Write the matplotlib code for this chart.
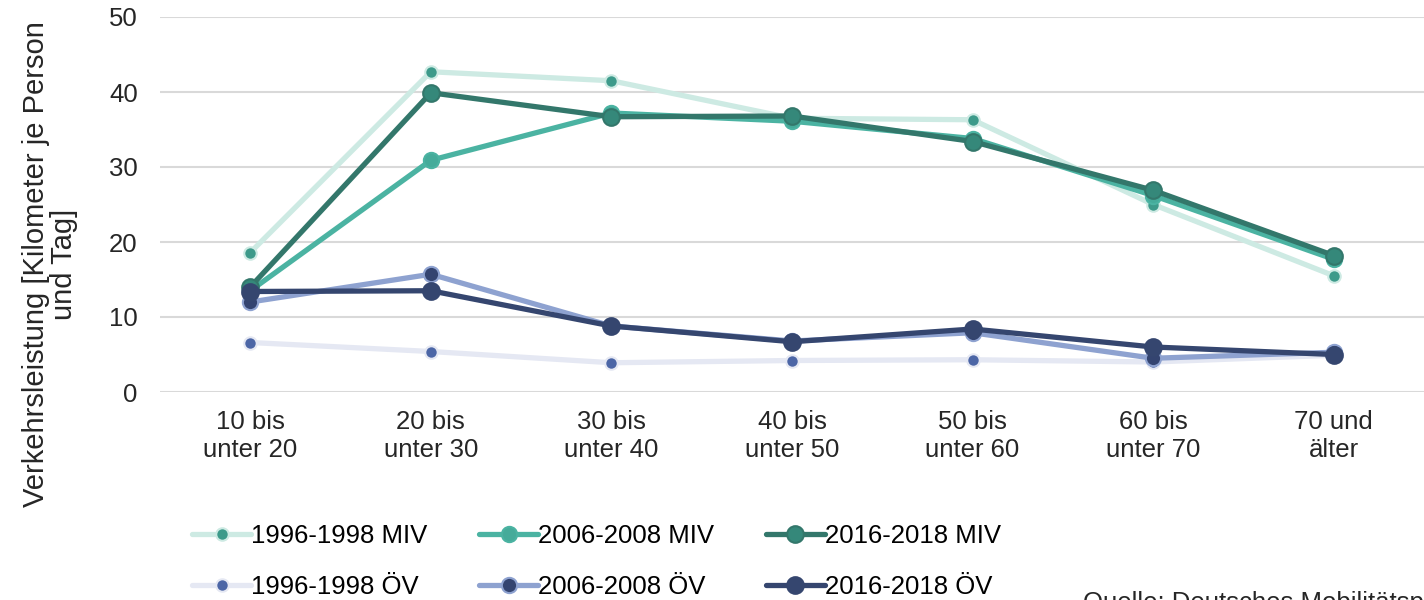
import matplotlib.pyplot as plt

plt.rcParams['font.family'] = ['Liberation Sans', 'DejaVu Sans']

categories = ['10 bis\nunter 20', '20 bis\nunter 30', '30 bis\nunter 40', '40 bis\nunter 50',
              '50 bis\nunter 60', '60 bis\nunter 70', '70 und\nälter']

miv_1996 = [18.6, 42.7, 41.5, 36.5, 36.3, 25.0, 15.5]
miv_2006 = [13.5, 30.9, 37.2, 36.1, 33.8, 26.2, 17.7]
miv_2016 = [14.0, 39.9, 36.7, 36.8, 33.4, 26.9, 18.2]
oev_1996 = [6.6, 5.4, 3.9, 4.2, 4.3, 4.0, 4.9]
oev_2006 = [12.0, 15.7, 8.8, 6.8, 7.9, 4.5, 5.3]
oev_2016 = [13.4, 13.5, 8.8, 6.7, 8.4, 6.0, 5.0]

# (label, values, line colour, marker colour, marker edge, marker size)
series = [
    ('1996-1998 MIV', miv_1996, '#cdeae3', '#3d9a8a', '#cdeae3', 9),
    ('2006-2008 MIV', miv_2006, '#4bb3a2', '#45ab9a', '#4bb3a2', 11),
    ('2016-2018 MIV', miv_2016, '#33776b', '#35887a', '#33776b', 12),
    ('1996-1998 ÖV', oev_1996, '#e5e8f3', '#4c66a6', '#e5e8f3', 9),
    ('2006-2008 ÖV', oev_2006, '#8ea2d0', '#344470', '#8ea2d0', 11),
    ('2016-2018 ÖV', oev_2016, '#35466f', '#35466f', '#35466f', 12),
]

fig = plt.figure(figsize=(14.24, 6), dpi=100)
ax = fig.add_axes([160 / 1424, 1 - 392 / 600, 1264 / 1424, 375 / 600])

x = range(len(categories))
handles = []
for label, vals, lc, mc, me, ms in series:
    h, = ax.plot(x, vals, color=lc, linewidth=3.8, marker='o', markersize=ms,
                 markerfacecolor=mc, markeredgecolor=me, markeredgewidth=1.5,
                 label=label, solid_capstyle='round')
    handles.append(h)

ax.set_xlim(-0.5, 6.5)
ax.set_ylim(0, 50)
ax.set_yticks([0, 10, 20, 30, 40, 50])
ax.set_xticks(list(x))
ax.set_xticklabels(categories, fontsize=18.5, color='#262626')
ax.tick_params(axis='y', labelsize=18.5, colors='#262626', length=0, pad=16)
ax.tick_params(axis='x', length=0, pad=13)
ax.grid(axis='y', color='#d9d9d9', linewidth=1.5)
ax.set_axisbelow(True)
for s in ax.spines.values():
    s.set_visible(False)

ax.set_ylabel('Verkehrsleistung [Kilometer je Person\nund Tag]', fontsize=21,
              color='#262626', linespacing=1.0)
ax.yaxis.set_label_coords(-0.065, 0.34)

# legend fills column-wise, so reorder to get MIV on the first row
order = [0, 3, 1, 4, 2, 5]
ax.legend([handles[i] for i in order], [series[i][0] for i in order],
          loc='upper left', bbox_to_anchor=(22 / 1264, -0.325), ncol=3, frameon=False,
          fontsize=18.5, handlelength=2.3, handletextpad=0.0, columnspacing=2.0,
          labelspacing=1.05, borderaxespad=0)

# source note sits at the lower page edge, as in the original slide
fig.text(1083 / 1424, -0.025, 'Quelle: Deutsches Mobilitätspanel', fontsize=18.5,
         color='#262626', ha='left', va='bottom')

fig.savefig('out.png', dpi=100)
